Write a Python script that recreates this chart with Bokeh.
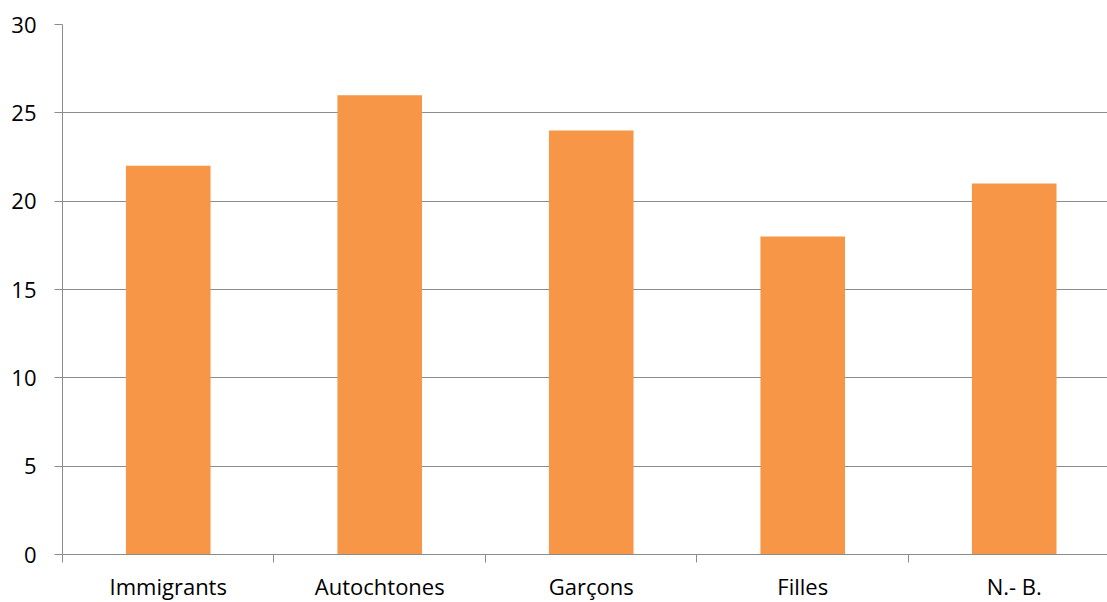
from bokeh.plotting import figure
from bokeh.models import Range1d, FixedTicker, ColumnDataSource
from bokeh.embed import file_html
from bokeh.resources import INLINE

categories = ["Immigrants", "Autochtones", "Garçons", "Filles", "N.- B."]
values = [22, 26, 24, 18, 21]
y_ticks = [0, 5, 10, 15, 20, 25, 30]

BAR = "#F79646"
GRID = "#8C8C8C"
FONT = "Open Sans"
FONT_SIZE = "22px"

centers = [i + 0.5 for i in range(len(categories))]
src = ColumnDataSource(dict(x=centers, top=values, cat=categories))

p = figure(frame_width=1045, frame_height=530, output_backend="svg", toolbar_location=None,
           x_range=Range1d(0, 4.941), y_range=Range1d(0, 30),
           min_border_left=62, min_border_right=0, min_border_top=24,
           min_border_bottom=48)
p.outline_line_color = None
p.background_fill_color = "white"

p.vbar(x="x", top="top", width=0.4, bottom=0, source=src,
       fill_color=BAR, line_color=None)

# y axis
p.yaxis.ticker = FixedTicker(ticks=y_ticks)
p.yaxis.axis_line_color = GRID
p.yaxis.major_tick_line_color = GRID
p.yaxis.major_tick_in = 0
p.yaxis.major_tick_out = 8
p.yaxis.minor_tick_line_color = None
p.yaxis.major_label_standoff = 18
p.yaxis.major_label_text_font = FONT
p.yaxis.major_label_text_font_size = FONT_SIZE
p.yaxis.major_label_text_color = "black"

# x axis: labels centred on bars, small ticks on the category boundaries
p.xaxis.ticker = FixedTicker(ticks=centers, minor_ticks=list(range(len(categories) + 1)))
p.xaxis.major_label_overrides = {c: name for c, name in zip(centers, categories)}
p.xaxis.axis_line_color = GRID
p.xaxis.major_tick_line_color = None
p.xaxis.major_tick_in = 0
p.xaxis.major_tick_out = 0
p.xaxis.minor_tick_line_color = GRID
p.xaxis.minor_tick_in = 0
p.xaxis.minor_tick_out = 8
p.xaxis.major_label_standoff = 8
p.xaxis.major_label_text_font = FONT
p.xaxis.major_label_text_font_size = FONT_SIZE
p.xaxis.major_label_text_color = "black"

p.xgrid.grid_line_color = None
p.ygrid.ticker = FixedTicker(ticks=y_ticks)
p.ygrid.grid_line_color = GRID
p.ygrid.grid_line_width = 1

open("out.html", "w").write(file_html(p, INLINE))
